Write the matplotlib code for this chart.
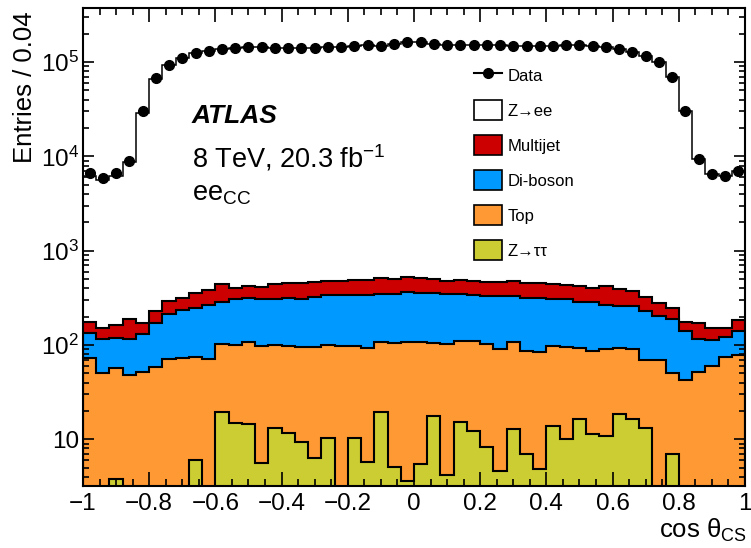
import numpy as np
import matplotlib
matplotlib.use("Agg")
import matplotlib.pyplot as plt
from matplotlib.lines import Line2D
from matplotlib.patches import Patch
from matplotlib.ticker import MultipleLocator, FixedLocator, LogLocator, FuncFormatter, NullFormatter

plt.rcParams['font.family'] = ['Liberation Sans', 'DejaVu Sans']
plt.rcParams['mathtext.fontset'] = 'custom'
plt.rcParams['mathtext.rm'] = 'Liberation Sans'
plt.rcParams['mathtext.it'] = 'Liberation Sans:italic'
plt.rcParams['mathtext.bf'] = 'Liberation Sans:bold'

# binning: 50 bins of 0.04 in cos theta_CS
bin_edges = np.round(np.arange(-1.0, 1.0001, 0.04), 2)
bin_centers = 0.5 * (bin_edges[:-1] + bin_edges[1:])

data = [6730, 5960, 6640, 8950, 30400, 67600, 93600, 110000, 125000, 132000,
        137000, 141000, 143000, 143000, 141000, 140000, 140000, 141000, 143000, 146000,
        147000, 150000, 149000, 155000, 163000, 163000, 156000, 153000, 153000, 153000,
        153000, 151000, 147000, 147000, 147000, 148000, 150000, 150000, 149000, 143000,
        137000, 128000, 117000, 99000, 70000, 30600, 9330, 6510, 6250, 7060]

zee = [6080, 5490, 6090, 8620, 28600, 66400, 93300, 109700, 124600, 131600,
       136600, 140600, 142600, 142600, 140600, 139500, 139500, 140500, 142500, 145500,
       146500, 149500, 148500, 154500, 162500, 162500, 155500, 152500, 152500, 152500,
       152500, 150500, 146500, 146500, 146500, 147600, 149600, 149600, 148600, 142600,
       136600, 127600, 116700, 98700, 69800, 29900, 9130, 6300, 6050, 6770]

multijet = [39, 35, 45, 72, 42, 61, 80, 83, 109, 118,
            153, 101, 110, 111, 133, 136, 151, 141, 140, 142,
            150, 150, 162, 155, 167, 160, 144, 133, 142, 142,
            133, 133, 151, 146, 138, 136, 132, 135, 116, 160,
            131, 118, 95, 78, 58, 33, 55, 37, 32, 42]

diboson = [61.6, 65, 60.5, 67, 78.9, 112, 143, 163, 170, 194,
           186, 205, 205, 207, 208, 217, 214, 230, 241, 242,
           242, 248, 241, 247, 254, 252, 248, 243, 239, 230,
           232, 243, 223, 226, 229, 210, 211, 196, 198, 175,
           168, 168, 162, 134, 137, 98.5, 62.9, 53.2, 45.8, 63.7]

top = [73.4, 50.0, 53.7, 48.0, 52.1, 57.9, 70.4, 72.2, 69.2, 71.6,
       82.0, 85.0, 93.2, 92.0, 86.7, 85.9, 85.1, 89.6, 90.4, 98.4,
       87.2, 86.5, 87.1, 99.1, 102.7, 101.2, 88.1, 97.4, 94.3, 98.1,
       93.3, 86.1, 95.7, 80.1, 78.8, 83.8, 84.5, 75.9, 74.2, 80.5,
       75.2, 74.4, 56.0, 69.3, 43.0, 42.5, 52.1, 59.8, 75.2, 78.3]

ztautau = [0, 0, 3.8, 0, 0, 0, 0, 0, 6.0, 0,
           19.6, 15.0, 14.4, 5.6, 13.3, 11.7, 9.4, 6.4, 10.4, 0,
           10.4, 5.7, 19.6, 5.1, 3.6, 5.5, 17.8, 4.2, 15.1, 12.2,
           8.3, 4.6, 12.8, 7.0, 4.8, 13.8, 10.0, 16.3, 11.4, 10.9,
           18.5, 16.3, 13.3, 0, 7.0, 0, 0, 0, 0, 0]

labels = ['Z→ee', 'Multijet', 'Di-boson', 'Top', 'Z→ττ']
colors = ['white', '#cc0000', '#0099ff', '#ff9933', '#cccc33']

fig = plt.figure(figsize=(7.51, 5.48), dpi=100)
ax = fig.add_axes([0.1105, 0.1137, 0.8815, 0.8708])
ax.set_yscale('log')

# stacked histograms, drawn from the full stack down to Z->tautau
components = [zee, multijet, diboson, top, ztautau]
for i, (lab, col) in enumerate(zip(labels, colors)):
    cum = np.sum(np.array(components[i:], dtype=float), axis=0)
    lw = 1.1 if i == 0 else 1.5
    ax.stairs(cum, bin_edges, baseline=1e-3, fill=True, facecolor=col,
              edgecolor='black', linewidth=lw)

ax.errorbar(bin_centers, data, yerr=np.sqrt(data), fmt='o', color='black',
            ms=7, elinewidth=1.2, capsize=0)

ax.set_xlim(-1, 1)
ax.set_ylim(3.22, 3.7e5)

ax.xaxis.set_major_locator(MultipleLocator(0.2))
ax.xaxis.set_minor_locator(MultipleLocator(0.05))
ax.xaxis.set_major_formatter(FuncFormatter(lambda v, p: ('%g' % round(v, 2)).replace('-', '\u2212')))
ax.yaxis.set_major_locator(FixedLocator([10, 1e2, 1e3, 1e4, 1e5]))
ax.yaxis.set_minor_locator(LogLocator(base=10, subs=np.arange(2, 10)))
ax.yaxis.set_minor_formatter(NullFormatter())
ax.yaxis.set_major_formatter(FuncFormatter(
    lambda v, p: '10' if round(np.log10(v)) == 1 else '$10^{%d}$' % round(np.log10(v))))

ax.tick_params(axis='x', which='major', direction='in', length=10, width=1.2,
               top=True, labelsize=17.5, pad=5)
ax.tick_params(axis='x', which='minor', direction='in', length=5, width=1.2, top=True)
ax.tick_params(axis='y', which='major', direction='in', length=8, width=1.2,
               right=True, labelsize=17.5, pad=3)
ax.tick_params(axis='y', which='minor', direction='in', length=4.5, width=1.2, right=True)
for s in ax.spines.values():
    s.set_linewidth(1.5)

ax.set_ylabel('Entries / 0.04', fontsize=18.5, loc='top')
ax.yaxis.set_label_coords(-0.069, 0.993)
ax.set_xlabel('cos θ$_{\\rm CS}$', fontsize=18.5, loc='right')
ax.xaxis.set_label_coords(1.003, -0.066)

ax.text(0.164, 0.759, 'ATLAS', transform=ax.transAxes, fontsize=19,
        fontweight='bold', style='italic', va='baseline')
ax.text(0.164, 0.667, '8 TeV, 20.3 fb$^{-1}$', transform=ax.transAxes,
        fontsize=19.5, va='baseline')
ax.text(0.164, 0.598, 'ee$_{\\rm CC}$', transform=ax.transAxes,
        fontsize=19.5, va='baseline')

handles = [Line2D([], [], color='black', marker='o', ms=7, lw=1.5)]
handles += [Patch(facecolor=c, edgecolor='black', linewidth=1.2) for c in colors]
ax.legend(handles, ['Data'] + labels, loc='upper left', bbox_to_anchor=(0.5906, 0.8816),
          frameon=False, fontsize=12, handlelength=1.68, handleheight=1.5,
          labelspacing=0.88, handletextpad=0.36, borderpad=0, borderaxespad=0)

fig.savefig('out.png', dpi=100)
